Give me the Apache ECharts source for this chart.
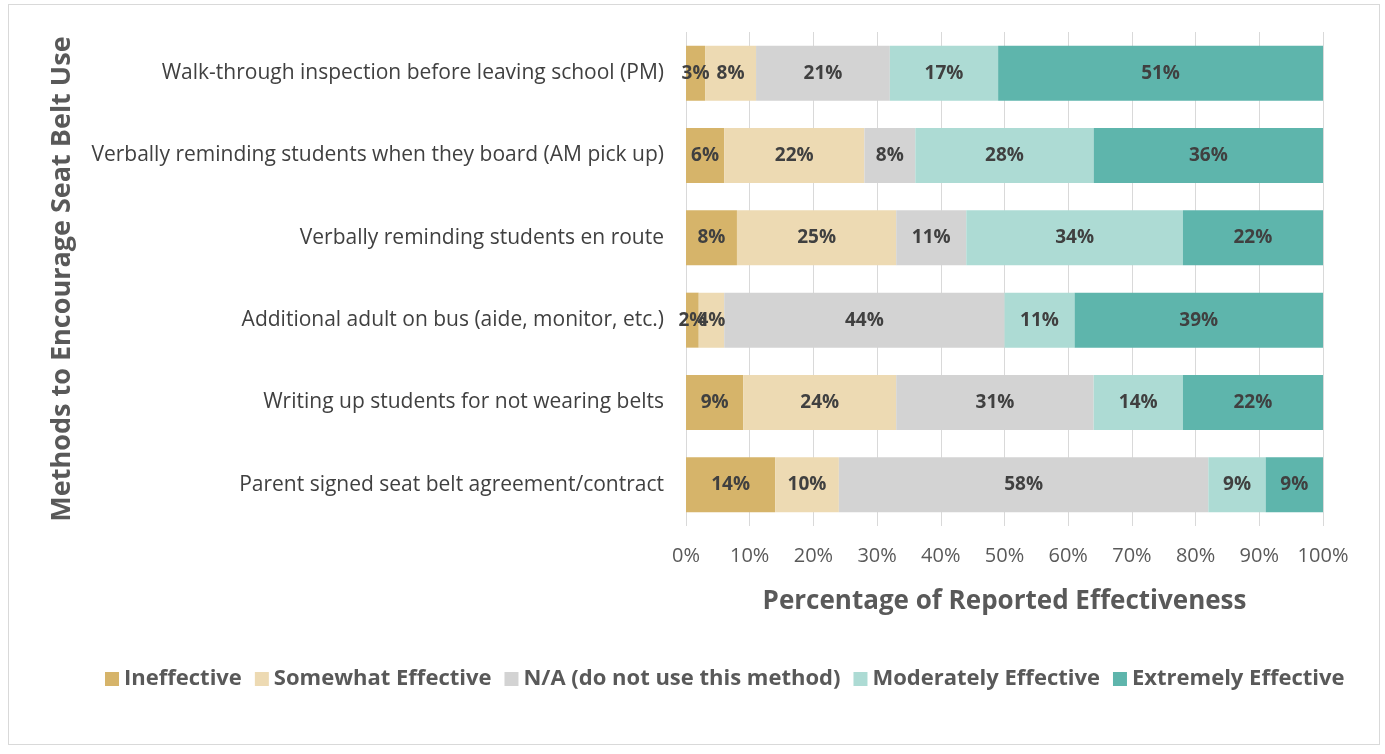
<!DOCTYPE html>
<html>
<head>
<meta charset="utf-8">
<script src="https://cdn.jsdelivr.net/npm/echarts@6/dist/echarts.min.js"></script>
<style>
  html, body { margin: 0; padding: 0; background: #fff; }
  #frame { position: absolute; left: 8px; top: 4px; width: 1372px; height: 741px; border: 1px solid #d9d9d9; box-sizing: border-box; }
  #container { position: absolute; left: 0; top: 0; width: 1385px; height: 754px; }
</style>
</head>
<body>
<div id="frame"></div>
<div id="container"></div>
<script>
var categories = [
  'Walk-through inspection before leaving school (PM)',
  'Verbally reminding students when they board (AM pick up)',
  'Verbally reminding students en route',
  'Additional adult on bus (aide, monitor, etc.)',
  'Writing up students for not wearing belts',
  'Parent signed seat belt agreement/contract'
];
var seriesNames = ['Ineffective', 'Somewhat Effective', 'N/A (do not use this method)', 'Moderately Effective', 'Extremely Effective'];
var ineffective = [3, 6, 8, 2, 9, 14];
var somewhat = [8, 22, 25, 4, 24, 10];
var notUsed = [21, 8, 11, 44, 31, 58];
var moderately = [17, 28, 34, 11, 14, 9];
var extremely = [51, 36, 22, 39, 22, 9];
var colors = ['#D6B46A', '#EDDAB3', '#D3D3D3', '#ADDBD4', '#5EB5AC'];

var font = '"Open Sans", "DejaVu Sans", sans-serif';
var allData = [ineffective, somewhat, notUsed, moderately, extremely];
var series = [];
for (var i in allData) {
  series.push({
    name: seriesNames[i],
    type: 'bar',
    stack: 'total',
    barWidth: 55,
    data: allData[i],
    itemStyle: { color: colors[i] },
    label: {
      show: true,
      position: 'inside',
      formatter: '{c}%',
      color: '#404040',
      fontWeight: 'bold',
      fontSize: 19,
      fontFamily: font
    }
  });
}

var chart = echarts.init(document.getElementById('container'));
var option = {
  animation: false,
  color: colors,
  grid: { left: 686, right: 62, top: 32, bottom: 228, containLabel: false },
  legend: {
    bottom: 59,
    left: 100,
    itemWidth: 14,
    itemHeight: 14,
    itemGap: 13,
    icon: 'rect',
    textStyle: { color: '#595959', fontSize: 22, fontWeight: 'bold', fontFamily: font },
    data: seriesNames
  },
  xAxis: {
    type: 'value',
    min: 0,
    max: 100,
    interval: 10,
    name: 'Percentage of Reported Effectiveness',
    nameLocation: 'middle',
    nameGap: 63,
    nameTextStyle: { color: '#595959', fontSize: 26, fontWeight: 'bold', fontFamily: font },
    axisLine: { show: false },
    axisTick: { show: false },
    axisLabel: { formatter: '{value}%', color: '#595959', fontSize: 20, margin: 20, fontFamily: font },
    splitLine: { show: true, lineStyle: { color: '#d9d9d9', width: 1 } }
  },
  yAxis: {
    type: 'category',
    inverse: true,
    data: categories,
    name: 'Methods to Encourage Seat Belt Use',
    nameLocation: 'middle',
    nameGap: 610,
    nameTextStyle: { color: '#595959', fontSize: 27, fontWeight: 'bold', fontFamily: font },
    axisLine: { show: false },
    axisTick: { show: false },
    axisLabel: { color: '#404040', fontSize: 21, margin: 22, fontFamily: font }
  },
  series: series
};
chart.setOption(option);
</script>
</body>
</html>
